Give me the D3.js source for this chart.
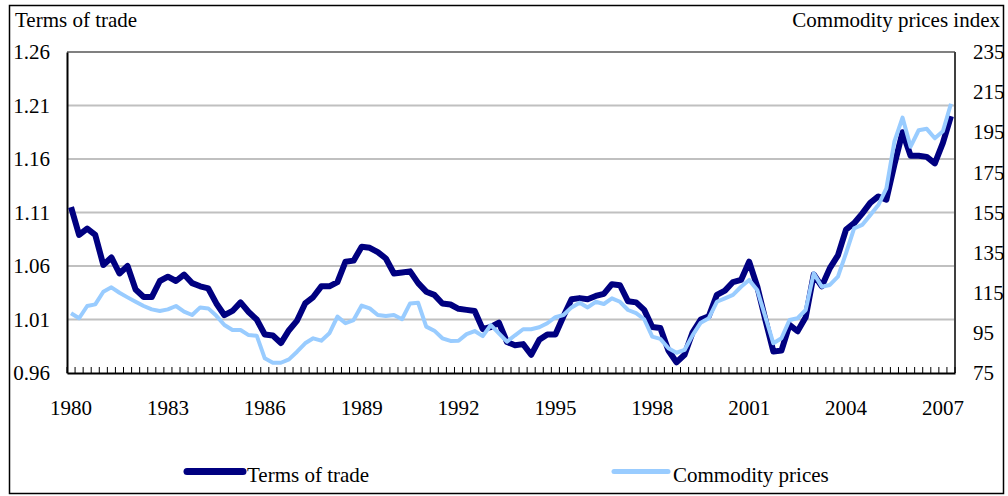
<!DOCTYPE html>
<html>
<head>
<meta charset="utf-8">
<script src="https://cdn.jsdelivr.net/npm/d3@7"></script>
<style>
  body { margin: 0; background: #fff; }
  svg text { font-family: "Liberation Serif", "Times New Roman", serif; font-size: 21px; fill: #000; }
</style>
</head>
<body>
<script>
// quarterly categories, 1980Q1 .. 2007Q2
const startYear = 1980;
const quarters = [];
for (let i = 0; i < 110; i++) {
  quarters.push((startYear + Math.floor(i / 4)) + "Q" + (i % 4 + 1));
}

// year labels shown on the x axis (every 3 years)
const yearLabels = ["1980", "1983", "1986", "1989", "1992", "1995", "1998", "2001", "2004", "2007"];

// left axis ticks (terms of trade) and right axis ticks (commodity index)
const leftTicks = [0.96, 1.01, 1.06, 1.11, 1.16, 1.21, 1.26];
const rightTicks = [75, 95, 115, 135, 155, 175, 195, 215, 235];

// terms of trade (left axis)
const termsOfTrade = [
  1.115, 1.089, 1.095, 1.089, 1.061, 1.068, 1.053, 1.060, 1.038, 1.031,
  1.031, 1.046, 1.050, 1.046, 1.052, 1.044, 1.041, 1.039, 1.025, 1.014,
  1.018, 1.026, 1.017, 1.010, 0.996, 0.995, 0.988, 1.000, 1.009, 1.025,
  1.031, 1.041, 1.041, 1.045, 1.064, 1.065, 1.078, 1.077, 1.073, 1.067,
  1.053, 1.054, 1.055, 1.044, 1.036, 1.033, 1.025, 1.024, 1.020, 1.019,
  1.018, 1.001, 1.003, 1.007, 0.989, 0.986, 0.987, 0.977, 0.991, 0.996,
  0.996, 1.013, 1.029, 1.030, 1.029, 1.032, 1.034, 1.043, 1.042, 1.027,
  1.026, 1.019, 1.003, 1.002, 0.981, 0.970, 0.977, 0.998, 1.010, 1.013,
  1.033, 1.037, 1.045, 1.047, 1.064, 1.041, 1.010, 0.980, 0.981, 1.005,
  0.999, 1.012, 1.052, 1.041, 1.058, 1.070, 1.094, 1.100, 1.109, 1.119,
  1.125, 1.122, 1.155, 1.185, 1.163, 1.163, 1.162, 1.156, 1.175, 1.200
];

// commodity prices index (right axis)
const commodityPrices = [
  104.8, 102.3, 108.4, 109.2, 115.5, 117.7, 115.0, 112.7, 110.5, 108.4,
  106.7, 105.9, 106.7, 108.4, 105.6, 103.9, 107.7, 107.2, 103.5, 98.9,
  96.4, 96.4, 93.9, 93.6, 82.3, 80.1, 80.1, 81.8, 85.6, 89.8,
  92.3, 91.1, 94.8, 103.1, 99.8, 101.4, 108.6, 107.2, 103.9, 103.4,
  103.9, 101.8, 109.7, 110.0, 98.1, 96.1, 92.3, 91.0, 91.1, 94.4,
  95.9, 93.4, 98.9, 94.8, 90.6, 93.8, 96.8, 96.8, 97.8, 99.8,
  102.8, 103.9, 107.7, 110.0, 107.7, 110.5, 109.4, 112.2, 110.5, 106.4,
  104.8, 101.8, 93.1, 92.0, 87.3, 85.1, 86.5, 93.9, 100.1, 102.3,
  110.5, 112.2, 113.9, 118.0, 121.4, 116.4, 103.1, 89.8, 92.3, 101.4,
  102.3, 106.4, 124.7, 118.0, 118.9, 123.0, 134.7, 147.1, 148.8, 153.7,
  158.7, 167.0, 190.5, 202.3, 187.8, 196.0, 196.7, 192.0, 195.5, 209.2
];

const seriesNames = ["Terms of trade", "Commodity prices"];
const colors = ["#000080", "#99ccff"];

const width = 1008, height = 496;
const plot = { left: 67, right: 955, top: 52, bottom: 373 };

const svg = d3.select("body").append("svg")
  .attr("width", width)
  .attr("height", height);

// outer frame
svg.append("rect")
  .attr("x", 9.5).attr("y", 5.5)
  .attr("width", 994).attr("height", 488)
  .attr("fill", "none")
  .attr("stroke", "#000")
  .attr("stroke-width", 1.5);

// scales
const x = d3.scaleBand()
  .domain(quarters)
  .range([plot.left, plot.right])
  .paddingInner(0).paddingOuter(0);

const yLeft = d3.scaleLinear().domain([0.96, 1.26]).range([plot.bottom, plot.top]);
const yRight = d3.scaleLinear().domain([75, 235]).range([plot.bottom, plot.top]);

// gridlines
svg.append("g")
  .selectAll("line")
  .data(leftTicks.slice(1))
  .enter().append("line")
    .attr("x1", plot.left).attr("x2", plot.right)
    .attr("y1", d => yLeft(d)).attr("y2", d => yLeft(d))
    .attr("stroke", d => d === 1.26 ? "#808080" : "#c0c0c0")
    .attr("stroke-width", 2);

// right border of plot area
svg.append("line")
  .attr("x1", plot.right).attr("x2", plot.right)
  .attr("y1", plot.top).attr("y2", plot.bottom)
  .attr("stroke", "#404040")
  .attr("stroke-width", 2);

// left axis
const leftAxis = svg.append("g")
  .attr("transform", `translate(${plot.left},0)`)
  .call(d3.axisLeft(yLeft).tickValues(leftTicks).tickSize(0).tickPadding(17).tickFormat(d3.format(".2f")));

// right axis
const rightAxis = svg.append("g")
  .attr("transform", `translate(${plot.right},0)`)
  .call(d3.axisRight(yRight).tickValues(rightTicks).tickSize(0).tickPadding(18));
rightAxis.select(".domain").remove();

// bottom axis, label every 12th quarter
const labelQuarters = quarters.filter(q => yearLabels.includes(q.slice(0, 4)) && q.endsWith("Q1"));
const bottomAxis = svg.append("g")
  .attr("transform", `translate(0,${plot.bottom})`)
  .call(d3.axisBottom(x).tickValues(labelQuarters).tickSize(0).tickPadding(27)
    .tickFormat(q => q.slice(0, 4)));

// quarter tick marks at band boundaries (pointing into the plot)
svg.append("g")
  .selectAll("line")
  .data(d3.range(quarters.length + 1))
  .enter().append("line")
    .attr("x1", i => plot.left + i * x.step())
    .attr("x2", i => plot.left + i * x.step())
    .attr("y1", plot.bottom).attr("y2", plot.bottom - 6)
    .attr("stroke", "#000")
    .attr("stroke-width", 1);

[leftAxis, bottomAxis].forEach(g => {
  g.select(".domain").attr("stroke", "#000").attr("stroke-width", 2);
});
svg.selectAll(".tick text")
  .style("font-family", "'Liberation Serif', 'Times New Roman', serif")
  .style("font-size", "21px")
  .attr("fill", "#000");

// lines
const lineLeft = d3.line()
  .x((d, i) => x(quarters[i]) + x.bandwidth() / 2)
  .y(d => yLeft(d));
const lineRight = d3.line()
  .x((d, i) => x(quarters[i]) + x.bandwidth() / 2)
  .y(d => yRight(d));

svg.append("path")
  .datum(termsOfTrade)
  .attr("d", lineLeft)
  .attr("fill", "none")
  .attr("stroke", colors[0])
  .attr("stroke-width", 6)
  .attr("stroke-linejoin", "round");

svg.append("path")
  .datum(commodityPrices)
  .attr("d", lineRight)
  .attr("fill", "none")
  .attr("stroke", colors[1])
  .attr("stroke-width", 4)
  .attr("stroke-linejoin", "round");

// axis titles
svg.append("text").attr("x", 15).attr("y", 27).text("Terms of trade");
svg.append("text").attr("x", 1000).attr("y", 27).attr("text-anchor", "end").text("Commodity prices index");

// legend
const legendItems = [
  { name: seriesNames[0], color: colors[0], x1: 187, x2: 243, w: 7, tx: 247 },
  { name: seriesNames[1], color: colors[1], x1: 614, x2: 668, w: 5, tx: 673 }
];
const legend = svg.append("g");
legendItems.forEach(d => {
  legend.append("line")
    .attr("x1", d.x1).attr("x2", d.x2)
    .attr("y1", 471.5).attr("y2", 471.5)
    .attr("stroke", d.color)
    .attr("stroke-width", d.w)
    .attr("stroke-linecap", "round");
  legend.append("text").attr("x", d.tx).attr("y", 481.5).text(d.name);
});
</script>
</body>
</html>
